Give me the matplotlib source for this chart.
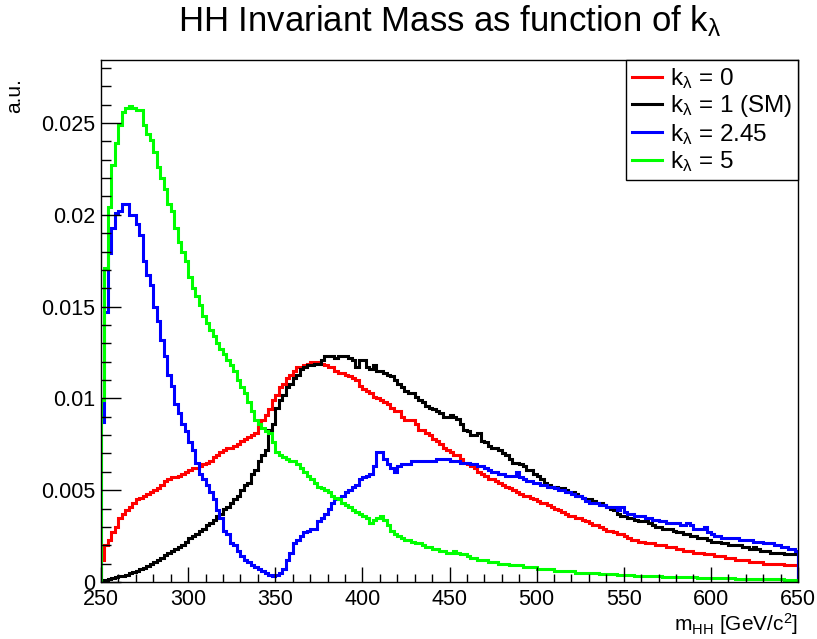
import numpy as np
import matplotlib
matplotlib.use("Agg")
import matplotlib.pyplot as plt
import matplotlib.transforms as mtransforms
from matplotlib.lines import Line2D
from matplotlib.ticker import MultipleLocator, FormatStrFormatter

plt.rcParams["font.family"] = ["Liberation Sans", "DejaVu Sans"]
plt.rcParams["mathtext.fontset"] = "custom"
plt.rcParams["mathtext.rm"] = "Liberation Sans"
plt.rcParams["mathtext.it"] = "Liberation Sans:italic"

# ── Data: m_HH histograms, 2 GeV bins from 250 to 650 ────────────────────
BIN_EDGES = np.arange(250, 652, 2)

KL0 = [
    0.0012, 0.0020, 0.0023, 0.0027, 0.0030, 0.0035, 0.0037, 0.0039, 0.0041, 0.0043,
    0.0045, 0.0046, 0.0047, 0.0048, 0.0049, 0.0050, 0.0051, 0.0053, 0.0055, 0.0056,
    0.0057, 0.0057, 0.0058, 0.0059, 0.0060, 0.0061, 0.0062, 0.0062, 0.0063, 0.0064,
    0.0065, 0.0066, 0.0068, 0.0069, 0.0071, 0.0072, 0.0073, 0.0073, 0.0074, 0.0075,
    0.0077, 0.0078, 0.0079, 0.0080, 0.0081, 0.0086, 0.0088, 0.0091, 0.0094, 0.0099,
    0.0102, 0.0106, 0.0108, 0.0111, 0.0113, 0.0115, 0.0117, 0.0117, 0.0118, 0.0119,
    0.0120, 0.0120, 0.0120, 0.0119, 0.0118, 0.0117, 0.0117, 0.0115, 0.0114, 0.0114,
    0.0113, 0.0112, 0.0111, 0.0110, 0.0107, 0.0105, 0.0104, 0.0103, 0.0101, 0.0100,
    0.0099, 0.0098, 0.0097, 0.0095, 0.0093, 0.0093, 0.0090, 0.0088, 0.0088, 0.0088,
    0.0086, 0.0083, 0.0083, 0.0081, 0.0080, 0.0078, 0.0077, 0.0075, 0.0073, 0.0072,
    0.0071, 0.0069, 0.0069, 0.0067, 0.0065, 0.0064, 0.0063, 0.0062, 0.0060, 0.0059,
    0.0058, 0.0056, 0.0056, 0.0055, 0.0054, 0.0053, 0.0052, 0.0051, 0.0050, 0.0049,
    0.0048, 0.0047, 0.0047, 0.0046, 0.0045, 0.0044, 0.0043, 0.0043, 0.0042, 0.0041,
    0.0040, 0.0039, 0.0038, 0.0037, 0.0036, 0.0036, 0.0035, 0.0035, 0.0034, 0.0033,
    0.0032, 0.0031, 0.0031, 0.0030, 0.0029, 0.0028, 0.0028, 0.0027, 0.0026, 0.0026,
    0.0025, 0.0024, 0.0023, 0.0023, 0.0022, 0.0022, 0.0021, 0.0021, 0.0021, 0.0020,
    0.0020, 0.0020, 0.0019, 0.0019, 0.0019, 0.0018, 0.0018, 0.0017, 0.0017, 0.0017,
    0.0016, 0.0016, 0.0016, 0.0015, 0.0015, 0.0015, 0.0014, 0.0014, 0.0014, 0.0013,
    0.0013, 0.0013, 0.0012, 0.0012, 0.0012, 0.0012, 0.0011, 0.0011, 0.0011, 0.0011,
    0.0010, 0.0010, 0.0010, 0.0010, 0.0010, 0.0010, 0.0009, 0.0009, 0.0009, 0.0009,
]

KL1 = [
    0.00005, 0.0001, 0.00015, 0.0002, 0.00025, 0.0003, 0.00035, 0.0004, 0.00047, 0.00055,
    0.00062, 0.0007, 0.00078, 0.00087, 0.00098, 0.0011, 0.0012, 0.0013, 0.00145, 0.00157,
    0.0017, 0.0018, 0.00192, 0.0020, 0.0022, 0.0024, 0.0025, 0.0026, 0.0028, 0.0029,
    0.0031, 0.0032, 0.0034, 0.0036, 0.0037, 0.0040, 0.0041, 0.0043, 0.0045, 0.0047,
    0.0050, 0.0053, 0.0054, 0.0059, 0.0061, 0.0066, 0.0069, 0.0072, 0.0083, 0.0086,
    0.0095, 0.0099, 0.0102, 0.0106, 0.0108, 0.0111, 0.0113, 0.0116, 0.0117, 0.0118,
    0.0118, 0.0119, 0.0119, 0.0121, 0.0123, 0.0123, 0.0123, 0.0122, 0.0123, 0.0123,
    0.0123, 0.0122, 0.0121, 0.0117, 0.0121, 0.0121, 0.0117, 0.0116, 0.0118, 0.0115,
    0.0115, 0.0114, 0.0113, 0.0112, 0.0110, 0.0108, 0.0106, 0.0104, 0.0103, 0.0103,
    0.0101, 0.0099, 0.0098, 0.0096, 0.0095, 0.0094, 0.0093, 0.0092, 0.0090, 0.0090,
    0.0091, 0.0090, 0.0089, 0.0086, 0.0083, 0.0082, 0.0080, 0.0080, 0.0081, 0.0077,
    0.0076, 0.0074, 0.0073, 0.0073, 0.0072, 0.0070, 0.0069, 0.0067, 0.0065, 0.0065,
    0.0064, 0.0063, 0.0061, 0.0061, 0.0059, 0.0058, 0.0056, 0.0054, 0.0053, 0.0052,
    0.0052, 0.0051, 0.0051, 0.0050, 0.0049, 0.0049, 0.0048, 0.0047, 0.0046, 0.0045,
    0.0045, 0.0044, 0.0043, 0.0043, 0.0042, 0.0041, 0.0040, 0.0039, 0.0037, 0.0036,
    0.0036, 0.0035, 0.0035, 0.0034, 0.0033, 0.0033, 0.0033, 0.0032, 0.0031, 0.0030,
    0.0030, 0.0029, 0.0029, 0.0029, 0.0028, 0.0027, 0.0027, 0.0026, 0.0026, 0.0025,
    0.0025, 0.0024, 0.0024, 0.0024, 0.0023, 0.0022, 0.0022, 0.0022, 0.0021, 0.0021,
    0.0020, 0.0020, 0.0020, 0.0020, 0.0019, 0.0019, 0.0018, 0.0019, 0.0018, 0.0017,
    0.0017, 0.0017, 0.0016, 0.0016, 0.0016, 0.0016, 0.0015, 0.0015, 0.0015, 0.0015,
]

KL245 = [
    0.0087, 0.0147, 0.0179, 0.0193, 0.0201, 0.0202, 0.0206, 0.0206, 0.0200, 0.0200,
    0.0195, 0.0189, 0.0175, 0.0167, 0.0162, 0.0150, 0.0142, 0.0132, 0.0123, 0.0113,
    0.0107, 0.0097, 0.0092, 0.0086, 0.0082, 0.0076, 0.0072, 0.0065, 0.0059, 0.0056,
    0.0053, 0.0049, 0.0045, 0.0039, 0.0035, 0.0028, 0.0026, 0.0021, 0.0020, 0.0017,
    0.0014, 0.0012, 0.0011, 0.0009, 0.0008, 0.0007, 0.0006, 0.0005, 0.0004, 0.0003,
    0.0004, 0.0005, 0.0007, 0.0012, 0.0016, 0.0021, 0.0023, 0.0025, 0.0027, 0.0028,
    0.0029, 0.0029, 0.0033, 0.0035, 0.0037, 0.0040, 0.0043, 0.0045, 0.0045, 0.0047,
    0.0049, 0.0050, 0.0052, 0.0053, 0.0056, 0.0057, 0.0058, 0.0059, 0.0063, 0.0071,
    0.0071, 0.0067, 0.0064, 0.0062, 0.0060, 0.0063, 0.0064, 0.0064, 0.0064, 0.0066,
    0.0066, 0.0066, 0.0066, 0.0066, 0.0066, 0.0066, 0.0067, 0.0067, 0.0067, 0.0067,
    0.0066, 0.0066, 0.0066, 0.0065, 0.0065, 0.0065, 0.0064, 0.0064, 0.0063, 0.0063,
    0.0062, 0.0061, 0.0060, 0.0060, 0.0059, 0.0059, 0.0058, 0.0058, 0.0058, 0.0060,
    0.0057, 0.0056, 0.0055, 0.0055, 0.0054, 0.0054, 0.0053, 0.0053, 0.0052, 0.0052,
    0.0051, 0.0050, 0.0050, 0.0049, 0.0049, 0.0048, 0.0047, 0.0047, 0.0046, 0.0044,
    0.0043, 0.0043, 0.0043, 0.0042, 0.0042, 0.0041, 0.0041, 0.0041, 0.0039, 0.0041,
    0.0038, 0.0037, 0.0037, 0.0036, 0.0036, 0.0036, 0.0035, 0.0035, 0.0034, 0.0034,
    0.0033, 0.0033, 0.0032, 0.0032, 0.0032, 0.0032, 0.0031, 0.0031, 0.0032, 0.0031,
    0.0029, 0.0029, 0.0029, 0.0030, 0.0027, 0.0026, 0.0025, 0.0025, 0.0024, 0.0024,
    0.0024, 0.0024, 0.0024, 0.0023, 0.0023, 0.0023, 0.0023, 0.0022, 0.0022, 0.0022,
    0.0021, 0.0021, 0.0021, 0.0020, 0.0020, 0.0019, 0.0019, 0.0018, 0.0018, 0.0017,
]

KL5 = [
    0.0099, 0.0171, 0.0204, 0.0227, 0.0239, 0.0249, 0.0256, 0.0258, 0.0259, 0.0258,
    0.0257, 0.0257, 0.0249, 0.0244, 0.0241, 0.0234, 0.0226, 0.0220, 0.0214, 0.0206,
    0.0202, 0.0193, 0.0185, 0.0180, 0.0175, 0.0166, 0.0160, 0.0156, 0.0151, 0.0145,
    0.0141, 0.0137, 0.0134, 0.0130, 0.0127, 0.0124, 0.0121, 0.0118, 0.0115, 0.0110,
    0.0106, 0.0103, 0.0098, 0.0093, 0.0088, 0.0086, 0.0084, 0.0082, 0.0081, 0.0076,
    0.0071, 0.0069, 0.0068, 0.0067, 0.0066, 0.0066, 0.0064, 0.0062, 0.0060, 0.0058,
    0.0056, 0.0054, 0.0052, 0.0051, 0.0050, 0.0049, 0.0047, 0.0046, 0.0045, 0.0043,
    0.0042, 0.0041, 0.0039, 0.0038, 0.0037, 0.0036, 0.0035, 0.0032, 0.0034, 0.0035,
    0.0036, 0.0034, 0.0031, 0.0028, 0.0026, 0.0025, 0.0024, 0.0023, 0.0023, 0.0022,
    0.0021, 0.0021, 0.0020, 0.0019, 0.0019, 0.0018, 0.0018, 0.0017, 0.0017, 0.0016,
    0.0016, 0.0017, 0.0016, 0.0015, 0.0015, 0.0014, 0.0013, 0.0013, 0.0012, 0.0012,
    0.0012, 0.0011, 0.0011, 0.0011, 0.0010, 0.0010, 0.0010, 0.0009, 0.0009, 0.0009,
    0.0009, 0.0008, 0.0008, 0.0008, 0.0008, 0.0007, 0.0007, 0.0007, 0.0007, 0.0007,
    0.0006, 0.0006, 0.0006, 0.0006, 0.0006, 0.0006, 0.0005, 0.0005, 0.0005, 0.0005,
    0.0005, 0.0005, 0.00047, 0.00046, 0.00045, 0.00044, 0.00042, 0.00041, 0.0004, 0.00039,
    0.00038, 0.00037, 0.00036, 0.00035, 0.00034, 0.00034, 0.00033, 0.00032, 0.00031, 0.00031,
    0.0003, 0.00029, 0.00029, 0.00028, 0.00028, 0.00027, 0.00027, 0.00026, 0.00026, 0.00025,
    0.00025, 0.00024, 0.00024, 0.00023, 0.00023, 0.00022, 0.00022, 0.00021, 0.00021, 0.0002,
    0.0002, 0.0002, 0.00019, 0.00019, 0.00018, 0.00018, 0.00017, 0.00017, 0.00017, 0.00016,
    0.00016, 0.00015, 0.00015, 0.00015, 0.00014, 0.00014, 0.00013, 0.00013, 0.00012, 0.00012,
]

SERIES = [
    (KL0,   "#ff0000", r"k$_{\mathregular{λ}}$ = 0"),
    (KL1,   "#000000", r"k$_{\mathregular{λ}}$ = 1 (SM)"),
    (KL245, "#0000ff", r"k$_{\mathregular{λ}}$ = 2.45"),
    (KL5,   "#00ff00", r"k$_{\mathregular{λ}}$ = 5"),
]

# ── Plot ──────────────────────────────────────────────────────────────────
W, H = 817, 639
fig = plt.figure(figsize=(W / 100, H / 100), dpi=100)
ax = fig.add_axes([101 / W, 1 - 582 / H, 697 / W, 522 / H])

handles = []
for vals, col, lab in SERIES:
    assert len(vals) == len(BIN_EDGES) - 1
    ax.stairs(vals, BIN_EDGES, color=col, linewidth=2.2, baseline=0)
    handles.append(Line2D([], [], color=col, linewidth=2.2, label=lab))

ax.set_xlim(250, 650)
ax.set_ylim(0, 0.02843)

ax.xaxis.set_major_locator(MultipleLocator(50))
ax.xaxis.set_minor_locator(MultipleLocator(10))
ax.yaxis.set_major_locator(MultipleLocator(0.005))
ax.yaxis.set_minor_locator(MultipleLocator(0.001))
ax.yaxis.set_major_formatter(FormatStrFormatter("%g"))

ax.tick_params(which="both", direction="in", top=False, right=False,
               width=1.0, labelsize=15.5)
ax.tick_params(axis="x", which="major", length=10.8, pad=5)
ax.tick_params(axis="x", which="minor", length=5.8)
ax.tick_params(axis="y", which="major", length=14.4, pad=4)
ax.tick_params(axis="y", which="minor", length=7.2)
for sp in ax.spines.values():
    sp.set_linewidth(1.0)

# nudge the "0" label up a little so it clears the "250" below it
zero_tick = ax.yaxis.get_major_ticks()[0]
zero_tick.label1.set_transform(
    zero_tick.label1.get_transform()
    + mtransforms.ScaledTranslation(0, 5 / 72, fig.dpi_scale_trans))

xl = ax.set_xlabel(r"m$_{\mathregular{HH}}$ [GeV/c$^{\mathregular{2}}$]",
                   fontsize=15, loc="right")
xl.set_verticalalignment("bottom")
ax.xaxis.set_label_coords(1.0, -(637 - 582) / 522)
ax.set_ylabel("a.u.", fontsize=15, loc="top")
ax.yaxis.set_label_coords(-0.11, 0.965)

fig.text(450 / W, 1 - 31 / H,
         r"HH Invariant Mass as function of k$_{\mathregular{λ}}$",
         ha="center", va="baseline", fontsize=25)

leg = ax.legend(handles=handles, loc="upper right", bbox_to_anchor=(1, 1),
                fontsize=17.5, frameon=True, fancybox=False, edgecolor="black",
                framealpha=1, borderaxespad=0, handlelength=1.25,
                handletextpad=0.3, labelspacing=0.1, borderpad=0.25)
leg.get_frame().set_linewidth(1.0)

fig.savefig("out.png", dpi=100)
